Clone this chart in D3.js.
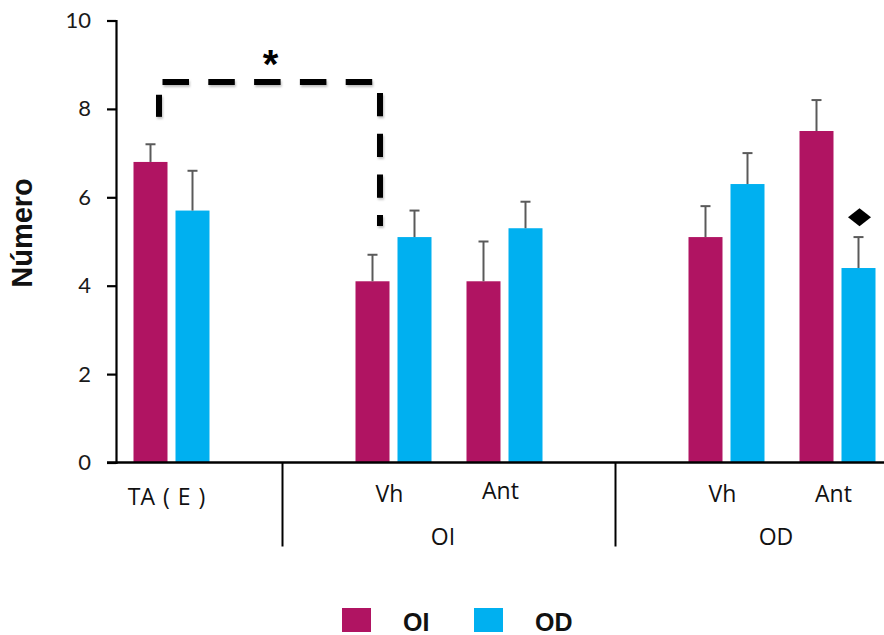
<!DOCTYPE html>
<html><head><meta charset="utf-8">
<script src="https://cdn.jsdelivr.net/npm/d3@7"></script>
<style>body{margin:0;background:#fff}svg{display:block}</style>
</head><body><svg id="c" width="884" height="635"></svg>
<script>
// ---- data ----
const slots = ["TA", "gap1", "OI-Vh", "OI-Ant", "gap2", "OD-Vh", "OD-Ant"];
const categories = ["TA", "OI-Vh", "OI-Ant", "OD-Vh", "OD-Ant"];
const categoryLabels = ["TA ( E )", "Vh", "Ant", "Vh", "Ant"];
const groupNames = ["OI", "OD"];
const groupMembers = [["OI-Vh", "OI-Ant"], ["OD-Vh", "OD-Ant"]];
const dividerSlots = ["gap1", "gap2"];
const series = ["OI", "OD"];
const valuesOI = [6.8, 4.1, 4.1, 5.1, 7.5];
const errorsOI = [0.4, 0.6, 0.9, 0.7, 0.7];
const valuesOD = [5.7, 5.1, 5.3, 6.3, 4.4];
const errorsOD = [0.9, 0.6, 0.6, 0.7, 0.7];
const yTicks = [0, 2, 4, 6, 8, 10];
const yTitle = "Número";
// significance bracket (values in axis units)
const bracketTop = 8.61;
const bracketLeftEnd = [8.32, 7.82];
const bracketRightEnd = [8.36, 5.35];
const diamondValue = 5.55;

const colors = {OI: "#B01462", OD: "#00B0F0"};

// ---- scales ----
const svg = d3.select("#c");
const y = d3.scaleLinear().domain([0, 10]).range([462.5, 20.5]);
const x = d3.scaleBand().domain(slots).range([116, 893]).paddingInner(0).paddingOuter(0);
const inner = d3.scaleBand().domain(series).range([17.5, 93.5]).paddingInner(0.1905);

const vals = {OI: valuesOI, OD: valuesOD};
const errs = {OI: errorsOI, OD: errorsOD};
const barData = [];
categories.forEach((c, i) => series.forEach(s => barData.push({c, s, v: vals[s][i], e: errs[s][i]})));

const defs = svg.append("defs");
const f = defs.append("filter").attr("id", "sh").attr("x", "-50%").attr("y", "-50%").attr("width", "200%").attr("height", "200%");
f.append("feDropShadow").attr("dx", 1).attr("dy", 2).attr("stdDeviation", 1.2).attr("flood-color", "#000").attr("flood-opacity", 0.25);

// bars
svg.append("g").selectAll("rect").data(barData).join("rect")
  .attr("x", d => x(d.c) + inner(d.s))
  .attr("width", inner.bandwidth())
  .attr("y", d => y(d.v))
  .attr("height", d => y(0) - y(d.v))
  .attr("fill", d => colors[d.s]);

// error bars
const eb = svg.append("g").attr("stroke", "#5a5a5a").attr("stroke-width", 2).attr("fill", "none");
barData.forEach(d => {
  const cx = x(d.c) + inner(d.s) + inner.bandwidth() / 2;
  eb.append("line").attr("x1", cx).attr("x2", cx).attr("y1", y(d.v)).attr("y2", y(d.v + d.e));
  eb.append("line").attr("x1", cx - 5).attr("x2", cx + 5).attr("y1", y(d.v + d.e)).attr("y2", y(d.v + d.e));
});

// y axis
const yAxis = d3.axisLeft(y).tickValues(yTicks).tickSize(9).tickPadding(16).tickFormat(d3.format("d"));
const ga = svg.append("g").attr("transform", "translate(116,0)").call(yAxis);
ga.select(".domain").attr("stroke", "#000").attr("stroke-width", 2.2);
ga.selectAll(".tick line").attr("stroke", "#000").attr("stroke-width", 2.2);
ga.selectAll(".tick text").attr("font-family", "Lato, 'Noto Sans', sans-serif").attr("font-size", 22).attr("fill", "#1a1a1a");

// x axis baseline
svg.append("line").attr("x1", 107).attr("x2", 884).attr("y1", y(0)).attr("y2", y(0))
  .attr("stroke", "#000").attr("stroke-width", 2.4);
// dividers
svg.append("g").selectAll("line").data(dividerSlots).join("line")
  .attr("x1", d => x(d) + x.bandwidth() / 2).attr("x2", d => x(d) + x.bandwidth() / 2)
  .attr("y1", y(0)).attr("y2", y(0) + 84)
  .attr("stroke", "#000").attr("stroke-width", 2);

// category labels
const pairCenter = c => x(c) + (inner("OI") + inner("OD") + inner.bandwidth()) / 2;
svg.append("g").selectAll("text").data(categories).join("text")
  .attr("x", (d, i) => pairCenter(d) - (i === 0 ? 5 : 4))
  .attr("y", (d, i) => i === 0 ? 505 : (d === "OI-Ant" ? 499 : 502))
  .attr("text-anchor", "middle")
  .attr("font-family", "'Open Sans', sans-serif").attr("font-size", 23).attr("fill", "#111")
  .attr("word-spacing", (d, i) => i === 0 ? 2 : 0)
  .text((d, i) => categoryLabels[i]);

// group labels
svg.append("g").selectAll("text").data(groupNames).join("text")
  .attr("x", (d, i) => (pairCenter(groupMembers[i][0]) + pairCenter(groupMembers[i][1])) / 2 - 6)
  .attr("y", 545)
  .attr("text-anchor", "middle")
  .attr("font-family", "'Open Sans', sans-serif").attr("font-size", 23).attr("fill", "#111")
  .text(d => d);

// y title
svg.append("text").attr("transform", "translate(32,233) rotate(-90)")
  .attr("text-anchor", "middle")
  .attr("font-family", "'Liberation Sans', Arial, sans-serif").attr("font-weight", "bold").attr("font-size", 29).attr("fill", "#111")
  .text(yTitle);

// significance bracket
const lx = x("TA") + inner("OI") + inner.bandwidth() / 2 + 8.5;
const rx = x("OI-Vh") + inner("OI") + inner.bandwidth() / 2 + 7.5;
const br = svg.append("g").attr("stroke", "#000").attr("stroke-width", 6).attr("fill", "none").attr("filter", "url(#sh)");
br.append("line").attr("x1", lx).attr("x2", lx).attr("y1", y(bracketLeftEnd[0])).attr("y2", y(bracketLeftEnd[1]));
br.append("line").attr("x1", lx + 3.5).attr("x2", rx - 6).attr("y1", y(bracketTop)).attr("y2", y(bracketTop))
  .attr("stroke-dasharray", "26.5,19.3");
br.append("line").attr("x1", rx).attr("x2", rx).attr("y1", y(bracketRightEnd[0])).attr("y2", y(bracketRightEnd[1]))
  .attr("stroke-dasharray", "23.3,17.4");
svg.append("text").attr("x", (lx + rx) / 2 + 1).attr("y", 78)
  .attr("text-anchor", "middle")
  .attr("font-family", "'Liberation Sans', Arial, sans-serif").attr("font-weight", "bold").attr("font-size", 40).attr("fill", "#000")
  .text("*");

// diamond marker
const dx = x("OD-Ant") + inner("OD") + inner.bandwidth() / 2 + 1;
const dy = y(diamondValue);
svg.append("path")
  .attr("d", `M${dx - 11.5},${dy} L${dx},${dy - 9} L${dx + 11.5},${dy} L${dx},${dy + 9} Z`)
  .attr("fill", "#000");

// legend
const lg = svg.append("g");
const legendX = [342, 474];
series.forEach((s, i) => {
  lg.append("rect").attr("x", legendX[i]).attr("y", 608).attr("width", 29).attr("height", 24).attr("fill", colors[s]);
  lg.append("text").attr("x", legendX[i] + 61).attr("y", 631)
    .attr("font-family", "'Liberation Sans', Arial, sans-serif").attr("font-weight", "bold").attr("font-size", 25).attr("fill", "#111")
    .text(s);
});
</script>
</body></html>
